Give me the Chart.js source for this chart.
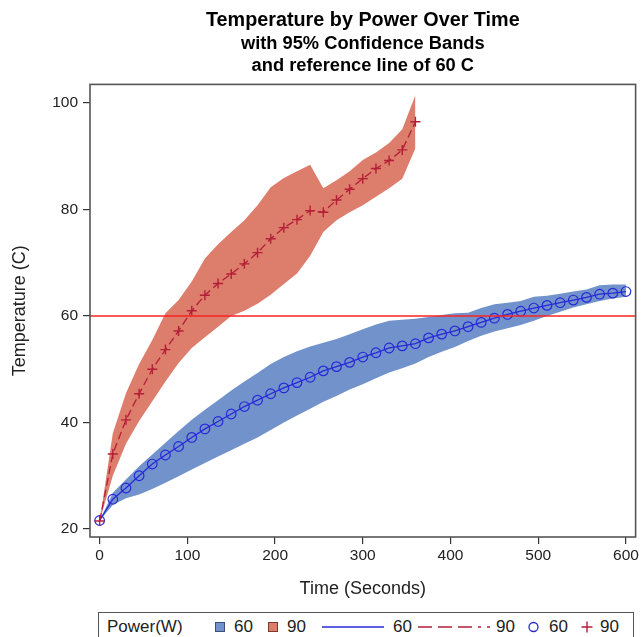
<!DOCTYPE html>
<html>
<head>
<meta charset="utf-8">
<script src="https://cdn.jsdelivr.net/npm/chart.js@4.4.1/dist/chart.umd.min.js"></script>
<style>
  html, body { margin: 0; padding: 0; background: #fff; overflow: hidden; }
  #wrap { position: relative; width: 642px; height: 637px; }
  #legend {
    position: absolute; left: 98px; top: 612px; width: 534px; height: 40px;
    border: 1.4px solid #555; background: #fff;
    font-family: 'Liberation Sans', Arial, sans-serif; font-size: 17px; color: #222;
  }
  #legend .t { position: absolute; top: 4px; line-height: 20px; }
  #legend .sw { position: absolute; top: 9px; width: 10px; height: 10px; box-sizing: border-box; }
  #legend svg { position: absolute; top: 4px; }
</style>
</head>
<body>
<div id="wrap">
  <canvas id="chart" width="642" height="637"></canvas>
  <div id="legend">
    <span class="t" style="left:8px">Power(W)</span>
    <span class="sw" style="left:116px;background:rgb(114,146,204);border:1px solid #3d4f78"></span>
    <span class="t" style="left:135px">60</span>
    <span class="sw" style="left:169px;background:rgb(221,125,108);border:1px solid #7a3a30"></span>
    <span class="t" style="left:188px">90</span>
    <svg style="left:223px" width="64" height="20"><line x1="0" y1="10" x2="62" y2="10" stroke="rgb(40,40,215)" stroke-width="1.3"/></svg>
    <span class="t" style="left:294px">60</span>
    <svg style="left:319px" width="74" height="20"><line x1="0" y1="10" x2="72" y2="10" stroke="rgb(180,30,55)" stroke-width="1.3" stroke-dasharray="14,6,14,6,14,6,3,6"/></svg>
    <span class="t" style="left:397px">90</span>
    <svg style="left:428px" width="14" height="20"><circle cx="6.5" cy="10" r="4.5" fill="none" stroke="rgb(40,40,215)" stroke-width="1.3"/></svg>
    <span class="t" style="left:450px">60</span>
    <svg style="left:481px" width="16" height="20"><path d="M7 4.5 V15.5 M1.5 10 H12.5" stroke="rgb(180,30,55)" stroke-width="1.4"/></svg>
    <span class="t" style="left:501px">90</span>
  </div>
</div>
<script>
// time in seconds
const times60 = [0, 15, 30, 45, 60, 75, 90, 105, 120, 135, 150, 165, 180, 195, 210, 225, 240, 255, 270, 285,
  300, 315, 330, 345, 360, 375, 390, 405, 420, 435, 450, 465, 480, 495, 510, 525, 540, 555, 570, 585, 600];
const times90 = [0, 15, 30, 45, 60, 75, 90, 105, 120, 135, 150, 165, 180, 195, 210, 225, 240, 255, 270, 285,
  300, 315, 330, 345, 360];

// 60 W: mean temperature and 95% band
const temp60 = [21.6, 25.6, 27.7, 30.0, 32.2, 33.9, 35.5, 37.2, 38.8, 40.2, 41.6, 43.0, 44.2, 45.4, 46.5, 47.5,
  48.5, 49.7, 50.5, 51.3, 52.3, 53.1, 54.0, 54.4, 54.8, 55.9, 56.6, 57.2, 58.0, 58.8, 59.6, 60.3, 60.9, 61.5,
  62.0, 62.5, 63.0, 63.5, 64.1, 64.3, 64.6];
const upper60 = [21.6, 26.8, 29.3, 31.8, 34.0, 36.2, 38.4, 40.5, 42.4, 44.2, 46.0, 47.7, 49.3, 51.0, 52.3, 53.4,
  54.3, 55.0, 55.7, 56.6, 57.5, 58.4, 59.1, 59.3, 59.5, 59.8, 60.2, 60.5, 60.6, 61.5, 62.2, 62.5, 62.8, 63.6,
  63.8, 64.2, 64.6, 65.0, 65.8, 65.9, 65.9];
const lower60 = [21.6, 24.5, 25.8, 26.5, 27.5, 28.7, 29.9, 31.2, 32.4, 33.6, 34.8, 36.0, 37.2, 38.6, 40.0, 41.3,
  42.6, 43.9, 45.0, 46.2, 47.2, 48.3, 49.4, 50.2, 51.1, 52.3, 53.3, 54.2, 55.3, 56.3, 57.1, 57.7, 58.3, 59.1,
  60.0, 60.8, 61.6, 62.2, 62.8, 63.3, 63.6];

// 90 W: mean temperature and 95% band
const temp90 = [21.5, 34.1, 40.5, 45.4, 50.0, 53.7, 57.2, 61.0, 63.9, 66.1, 67.9, 69.8, 71.9, 74.5, 76.6, 78.1,
  79.8, 79.5, 81.8, 83.8, 85.8, 87.7, 89.2, 91.2, 96.5];
const upper90 = [21.5, 38.0, 45.5, 51.0, 55.5, 60.5, 63.0, 66.5, 70.8, 73.5, 75.8, 78.0, 80.8, 84.2, 85.9, 87.2,
  88.4, 84.0, 85.5, 87.2, 89.3, 90.7, 92.5, 95.1, 101.5];
const lower90 = [21.5, 30.0, 36.0, 40.3, 44.0, 47.7, 51.2, 54.0, 56.0, 58.0, 60.0, 61.0, 62.3, 64.0, 66.0, 68.0,
  71.3, 75.8, 78.0, 79.5, 80.8, 82.4, 84.0, 85.8, 91.5];

const refTemp = 60;
const xTicks = [0, 100, 200, 300, 400, 500, 600];
const yTicks = [20, 40, 60, 80, 100];
const xMin = -11, xMax = 611, yMin = 18.5, yMax = 103.5;

const FONT = "'Liberation Sans', Arial, sans-serif";
const pts = (xs, ys) => xs.map((x, i) => ({ x: x, y: ys[i] }));

const framePlugin = {
  id: 'frame',
  afterDatasetsDraw(chart) {
    const a = chart.chartArea, ctx = chart.ctx;
    ctx.save();
    ctx.strokeStyle = '#555';
    ctx.lineWidth = 1.6;
    ctx.strokeRect(a.left, a.top, a.right - a.left, a.bottom - a.top);
    ctx.restore();
  }
};

new Chart(document.getElementById('chart').getContext('2d'), {
  type: 'line',
  data: {
    datasets: [
      { label: 'ref', data: [{ x: xMin, y: refTemp }, { x: xMax, y: refTemp }],
        borderColor: 'rgb(250,35,35)', borderWidth: 1.5, pointRadius: 0, fill: false },
      { label: 'line90', data: pts(times90, temp90), borderColor: 'rgb(180,30,55)', borderWidth: 1.3,
        borderDash: [8, 4], pointStyle: 'cross', pointRadius: 5, pointBorderWidth: 1.4,
        pointBorderColor: 'rgb(180,30,55)', fill: false },
      { label: 'line60', data: pts(times60, temp60), borderColor: 'rgb(40,40,215)', borderWidth: 1.3,
        pointStyle: 'circle', pointRadius: 4.8, pointBorderWidth: 1.2,
        pointBorderColor: 'rgb(40,40,215)', pointBackgroundColor: 'rgba(0,0,0,0)', fill: false },
      { label: 'lo90', data: pts(times90, lower90), borderWidth: 0, pointRadius: 0, fill: false },
      { label: 'hi90', data: pts(times90, upper90), borderWidth: 0, pointRadius: 0,
        fill: '-1', backgroundColor: 'rgb(221,125,108)' },
      { label: 'lo60', data: pts(times60, lower60), borderWidth: 0, pointRadius: 0, fill: false },
      { label: 'hi60', data: pts(times60, upper60), borderWidth: 0, pointRadius: 0,
        fill: '-1', backgroundColor: 'rgb(114,146,204)' }
    ]
  },
  options: {
    responsive: false,
    animation: false,
    events: [],
    layout: { padding: { left: 0, right: 6, top: 0, bottom: 37 } },
    elements: { line: { tension: 0 } },
    plugins: {
      legend: { display: false },
      tooltip: { enabled: false },
      title: {
        display: true, fullSize: false,
        text: 'Temperature by Power Over Time',
        color: '#000', font: { family: FONT, size: 19.8, weight: 'bold', lineHeight: 1.2 },
        padding: { top: 9, bottom: 0 }
      },
      subtitle: {
        display: true, fullSize: false,
        text: ['with 95% Confidence Bands', 'and reference line of 60 C'],
        color: '#000', font: { family: FONT, size: 18.3, weight: 'bold', lineHeight: 1.22 },
        padding: { top: 0, bottom: 7 }
      }
    },
    scales: {
      x: {
        type: 'linear', min: xMin, max: xMax,
        afterFit(s) { s.height = 63; s.paddingLeft = 0; s.paddingRight = 0; },
        afterBuildTicks(s) { s.ticks = xTicks.map(v => ({ value: v })); },
        border: { display: false },
        grid: { display: true, drawOnChartArea: false, drawTicks: true, tickLength: 7, color: '#333', lineWidth: 1.2 },
        ticks: { color: '#222', font: { family: FONT, size: 15.5 }, padding: 2, maxRotation: 0 },
        title: { display: true, text: 'Time (Seconds)', color: '#222',
          font: { family: FONT, size: 18, lineHeight: 1.2 }, padding: { top: 0, bottom: 0 } }
      },
      y: {
        type: 'linear', min: yMin, max: yMax,
        afterFit(s) { s.width = 90; },
        afterBuildTicks(s) { s.ticks = yTicks.map(v => ({ value: v })); },
        border: { display: false },
        grid: { display: true, drawOnChartArea: false, drawTicks: true, tickLength: 7, color: '#333', lineWidth: 1.2 },
        ticks: { color: '#222', font: { family: FONT, size: 15.5 }, padding: 5 },
        title: { display: true, text: 'Temperature (C)', color: '#222',
          font: { family: FONT, size: 18, lineHeight: 1.2 }, padding: { top: 9, bottom: 0 } }
      }
    }
  },
  plugins: [framePlugin]
});
</script>
</body>
</html>
